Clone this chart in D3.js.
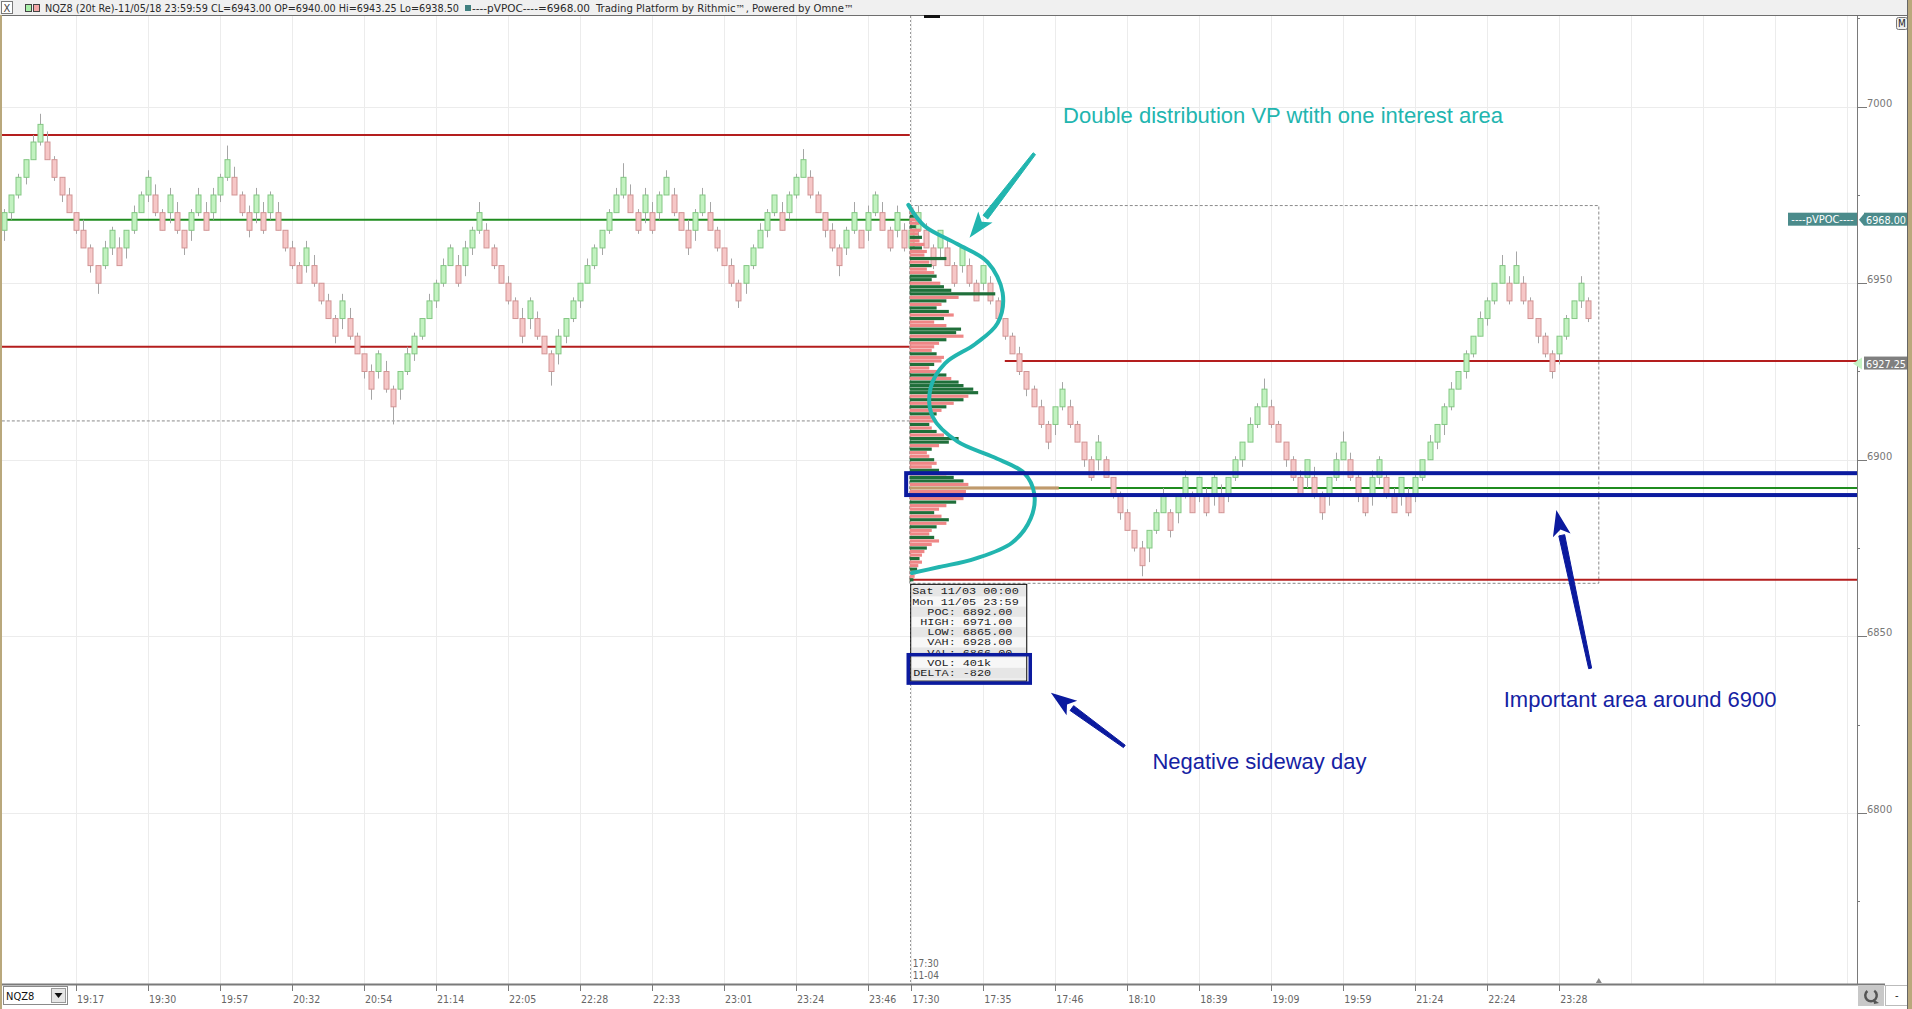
<!DOCTYPE html>
<html>
<head>
<meta charset="utf-8">
<script src="https://cdn.jsdelivr.net/npm/d3@7"></script>
<style>
  body { margin: 0; background: #fff; overflow: hidden; }
  svg { display: block; }
</style>
</head>
<body>
<script>
// ---- chart data ----
const BRICK = 5; // 20 ticks renko brick = 5 points

// previous session (11/02 evening) renko closes
const leftCloses = [
  6970,6975,6980,6985,6990,6995,6985,6980,6975,6970,
  6965,6960,6955,6950,6960,6965,6955,6965,6970,6975,
  6980,6970,6965,6975,6965,6960,6970,6975,6965,6975,
  6980,6985,6975,6970,6965,6975,6965,6975,6965,6960,
  6955,6950,6960,6950,6945,6940,6935,6945,6935,6930,
  6925,6920,6930,6920,6915,6925,6930,6935,6940,6945,
  6950,6955,6960,6950,6960,6965,6970,6960,6955,6950,
  6945,6940,6935,6945,6935,6930,6925,6935,6940,6945,
  6950,6955,6960,6965,6970,6975,6980,6970,6965,6975,
  6965,6975,6980,6970,6965,6960,6970,6975,6965,6960,
  6955,6950,6945,6955,6960,6965,6970,6975,6965,6975,
  6980,6985,6975,6970,6965,6960,6955,6965,6970,6960,
  6970,6975,6965,6960,6970,6960
];
const leftWickHi = [
  1,0,1,0,2,3,3,1,0,2, 0,3,1,0,2,1,3,0,2,1, 2,3,1,2,3,0,1,2,3,2,
  1,4,3,1,2,2,3,1,3,0, 2,1,2,3,0,2,1,2,3,1, 0,2,1,3,1,0,2,1,0,2,
  1,2,1,3,2,1,3,2,1,0, 2,1,3,1,2,0,1,2,0,1, 0,2,1,0,1,2,4,3,1,2,
  3,1,2,2,0,3,1,2,3,1, 0,2,1,0,1,2,1,0,3,1, 1,3,2,1,0,2,1,1,3,0,
  2,1,3,1,2,2
];
const leftWickLo = [
  3,2,1,2,0,1,0,1,2,0, 1,0,2,3,1,2,0,3,1,0, 2,1,0,3,1,2,3,1,0,2,
  2,1,0,1,2,3,1,2,0,1, 1,0,2,1,1,0,2,3,1,0, 2,3,2,1,5,3,1,2,1,0,
  2,1,0,1,3,2,1,0,1,0, 1,0,2,3,1,0,4,3,2,1, 2,0,1,2,1,0,1,0,1,3,
  1,2,0,1,0,2,3,1,0,1, 0,1,2,3,1,0,2,1,0,2, 1,0,1,0,2,1,3,2,1,0,
  3,1,0,1,2,1
];

// current session (11/04 17:30 -> 11/05 23:59) renko closes
const rightCloses = [
  6965,6970,6960,6955,6965,6955,6950,6960,6950,6945,
  6955,6945,6940,6935,6930,6925,6920,6915,6910,6905,
  6915,6920,6910,6905,6900,6895,6905,6895,6890,6885,
  6880,6875,6870,6880,6885,6890,6880,6890,6895,6885,
  6895,6885,6895,6885,6895,6900,6905,6910,6915,6920,
  6910,6905,6900,6895,6890,6900,6890,6885,6895,6900,
  6905,6895,6890,6885,6895,6900,6890,6885,6895,6885,
  6895,6900,6905,6910,6915,6920,6925,6930,6935,6940,
  6945,6950,6955,6945,6955,6945,6940,6935,6930,6925,
  6935,6940,6945,6950,6940
];
const rightWickHi = [
  3,2,2,1,0,2,1,0,2,1, 0,2,1,0,1,2,0,1,2,1, 0,2,2,1,0,1,2,1,0,1,
  1,0,2,0,1,2,1,0,2,1, 0,2,1,3,0,1,0,2,1,3, 2,1,0,1,2,0,3,1,0,2,
  3,2,1,0,2,1,1,2,0,2, 1,0,2,0,1,2,0,1,0,2, 1,0,3,2,4,2,1,0,1,1,
  0,1,0,2,1
];
const rightWickLo = [
  1,2,0,1,3,0,1,2,1,0, 2,1,0,1,0,1,2,0,1,2, 3,1,1,0,2,1,3,0,1,2,
  0,1,3,4,1,0,2,3,1,0, 2,1,3,0,2,1,2,0,1,0, 1,0,2,1,0,3,1,2,3,1,
  0,1,2,1,3,2,1,0,3,1, 2,1,0,2,3,1,0,2,1,0, 2,1,0,1,0,1,0,2,1,2,
  3,1,0,2,1
];

// time axis
const timeTickIndex = [10,20,30,40,50,60,70,80,90,100,110,120, 126,136,146,156,166,176,186,196,206,216];
const timeTickLabel = ["19:17","19:30","19:57","20:32","20:54","21:14","22:05","22:28","22:33","23:01","23:24","23:46",
                       "17:30","17:35","17:46","18:10","18:39","19:09","19:59","21:24","22:24","23:28"];
const gridOnlyIndex = [226,236,246,256];
const SESSION_SPLIT = 125.8; // bar index of the session break

// price axis
const priceTicks = [6800,6850,6900,6950,7000];
const priceMinorTicks = [6775,6825,6875,6925,6975,7025];

// previous session levels
const prevVAH = 6992, prevVAL = 6932, prevLow = 6911, pVPOC = 6968;

// current session volume profile stats
const sessionDates = ["Sat 11/03 00:00", "Mon 11/05 23:59"];
const statLabels = ["POC", "HIGH", "LOW", "VAH", "VAL", "VOL", "DELTA"];
const statValues = ["6892.00", "6971.00", "6865.00", "6928.00", "6866.00", "401k", "-820"];
const POC = 6892, HIGH = 6971, LOW = 6865, VAH = 6928, VAL = 6866;
const lastPrice = 6927.25;

// volume profile rows, 1 point each, from HIGH down to 6866
const vpVolume = [
  3,4,5,6,8,5,9,7,10,8, 12,10,14,12,30,16,18,14,20,22,
  18,25,28,34,70,40,30,26,22,32, 36,28,20,30,42,38,44,30,24,20,
  18,22,28,26,20,16,24,30,34,40, 44,52,56,48,44,36,30,26,22,18,
  20,16,18,22,28,40,32,24,18,14, 16,20,22,18,24,30,36,44,48,122,
  46,50,44,38,30,24,20,26,32,30, 22,18,16,20,24,18,14,12,10,8,
  10,7,6,5,4,3
];
// 1 = buyers dominate (green), -1 = sellers (red), 0 = POC row
const vpSide = [
  -1,-1,1,-1,-1,1,-1,-1,1,-1, -1,1,-1,-1,1,-1,1,-1,-1,1,
  1,-1,1,1,1,-1,1,-1,1,1, -1,1,-1,-1,1,1,-1,1,-1,-1,
  -1,1,-1,-1,1,-1,-1,1,-1,1, 1,1,1,-1,1,-1,1,-1,1,-1,
  -1,1,-1,1,-1,1,1,-1,1,-1, -1,1,-1,-1,1,-1,1,1,-1,0,
  -1,-1,-1,1,-1,-1,1,-1,1,-1, 1,-1,-1,1,-1,-1,1,-1,-1,1,
  -1,-1,1,-1,-1,1
];

// hand drawn annotations, in [bar index, price]
const ddCurve = [
  [125.6,6972.2],[127.8,6966.3],[132.4,6961.1],[136.6,6956.0],[138.7,6947.3],[138.0,6938.7],
  [134.9,6932.8],[130.7,6927.3],[128.7,6920.4],[129.0,6912.1],[132.4,6905.2],[137.5,6900.7],
  [141.7,6896.2],[143.1,6890.3],[142.6,6883.4],[140.0,6876.5],[134.9,6872.0],[129.9,6869.6],[126.1,6867.9]
];
const notes = [
  {text: "Double distribution VP wtith one interest area", at: [147.1, 6995.3], color: "#22b5af"},
  {text: "Important area around 6900", at: [208.3, 6829.9], color: "#1522a3"},
  {text: "Negative sideway day", at: [159.5, 6812.3], color: "#1522a3"}
];
const arrows = [
  {from: [143.1, 6986.7], to: [134.1, 6962.9], color: "#22b5af"},
  {from: [220.3, 6840.9], to: [215.6, 6885.8], color: "#0b1a9e"},
  {from: [155.6, 6818.8], to: [145.4, 6834.0], color: "#0b1a9e"}
];
const areaBox = {x0: 125.3, x1: 258.75, p0: 6896.2, p1: 6890.0};

// ---- layout ----
const W = 1912, H = 1009;
const plot = {left: 0, right: 1857, top: 16, bottom: 984};
const NARROW = "'Liberation Sans Narrow', 'DejaVu Sans Condensed', 'Liberation Sans', sans-serif";

const svg = d3.select("body").append("svg")
  .attr("width", W).attr("height", H)
  .style("font-family", NARROW);

const x = d3.scaleLinear().domain([0, 100]).range([4, 724]);
const y = d3.scaleLinear().domain([6751.5, 7025.7]).range([plot.bottom, plot.top]);

svg.append("rect").attr("width", W).attr("height", H).attr("fill", "#fff");

svg.append("defs").append("clipPath").attr("id", "plotclip")
  .append("rect")
  .attr("x", plot.left).attr("y", plot.top)
  .attr("width", plot.right - plot.left).attr("height", plot.bottom - plot.top);

const g = svg.append("g").attr("clip-path", "url(#plotclip)");

// grid
g.selectAll(".hgrid").data(priceTicks).join("line")
  .attr("x1", plot.left).attr("x2", plot.right)
  .attr("y1", d => Math.round(y(d)) + 0.5).attr("y2", d => Math.round(y(d)) + 0.5)
  .attr("stroke", "#ececec");
g.selectAll(".vgrid").data(timeTickIndex.concat(gridOnlyIndex)).join("line")
  .attr("x1", d => Math.round(x(d)) + 0.5).attr("x2", d => Math.round(x(d)) + 0.5)
  .attr("y1", plot.top).attr("y2", plot.bottom)
  .attr("stroke", "#ececec");

// session break
g.append("line")
  .attr("x1", Math.round(x(SESSION_SPLIT)) + 0.5).attr("x2", Math.round(x(SESSION_SPLIT)) + 0.5)
  .attr("y1", plot.top).attr("y2", plot.bottom)
  .attr("stroke", "#9a9a9a").attr("stroke-dasharray", "2,2");

// level lines
function level(p, i0, i1, color, dash, width) {
  g.append("line")
    .attr("x1", x(i0)).attr("x2", x(i1))
    .attr("y1", y(p)).attr("y2", y(p))
    .attr("stroke", color).attr("stroke-width", width || 2)
    .attr("stroke-dasharray", dash || null);
}
level(prevVAH, -1, SESSION_SPLIT, "#b41e1e");
level(pVPOC, -1, SESSION_SPLIT, "#1f8c1f");
level(prevVAL, -1, SESSION_SPLIT, "#b41e1e");
level(prevLow, -1, SESSION_SPLIT, "#8a8a8a", "3,2", 1);

// session range box
g.append("rect")
  .attr("x", x(SESSION_SPLIT)).attr("y", y(HIGH + 1))
  .attr("width", x(221.5) - x(SESSION_SPLIT)).attr("height", y(LOW) - y(HIGH + 1))
  .attr("fill", "none").attr("stroke", "#8a8a8a").attr("stroke-dasharray", "3,2");

level(VAH, 139, 270, "#b41e1e");
level(VAL, SESSION_SPLIT, 270, "#b41e1e");
level(POC, SESSION_SPLIT, 270, "#1f8c1f");

// renko bars
const closes = leftCloses.concat(rightCloses);
const wHi = leftWickHi.concat(rightWickHi);
const wLo = leftWickLo.concat(rightWickLo);
const bars = closes.map((c, i) => {
  const up = i === 0 ? true : c > closes[i - 1];
  const o = up ? c - BRICK : c + BRICK;
  return {i, o, c, up,
    hi: Math.max(o, c) + (wHi[i] || 0),
    lo: Math.min(o, c) - (wLo[i] || 0)};
});

const bar = g.append("g").selectAll("g").data(bars).join("g");
bar.append("line")
  .attr("x1", d => Math.round(x(d.i)) + 0.5).attr("x2", d => Math.round(x(d.i)) + 0.5)
  .attr("y1", d => y(d.hi)).attr("y2", d => y(d.lo))
  .attr("stroke", "#a6a6a6");
bar.append("rect")
  .attr("x", d => Math.round(x(d.i)) - 2)
  .attr("y", d => y(Math.max(d.o, d.c)))
  .attr("width", 5)
  .attr("height", d => y(Math.min(d.o, d.c)) - y(Math.max(d.o, d.c)))
  .attr("fill", d => d.up ? "#c2f2c0" : "#f6c7c7")
  .attr("stroke", d => d.up ? "#84c784" : "#d19595");

// volume profile
const vpX = d3.scaleLinear().domain([0, d3.max(vpVolume)]).range([0, 149]);
const vpColor = s => s === 0 ? "#bf9a6c" : (s > 0 ? "#1f6f3a" : "#ef8686");
g.append("g").selectAll("rect").data(vpVolume).join("rect")
  .attr("x", x(SESSION_SPLIT))
  .attr("y", (d, k) => y(HIGH - k + 0.45))
  .attr("width", d => vpX(d))
  .attr("height", (d, k) => y(HIGH - k - 0.45) - y(HIGH - k + 0.45))
  .attr("fill", (d, k) => vpColor(vpSide[k]));

// teal double distribution sketch
g.append("path")
  .attr("d", d3.line().x(d => x(d[0])).y(d => y(d[1])).curve(d3.curveCatmullRom.alpha(0.5))(ddCurve))
  .attr("fill", "none").attr("stroke", "#22b5af").attr("stroke-width", 4)
  .attr("stroke-linecap", "round");

// session stats box
const boxX = x(SESSION_SPLIT) + 1, boxY = y(LOW) + 1, boxW = 116, rowH = 10.2, CH = 7.1;
const rows = sessionDates.map(t => ({left: t, label: null}))
  .concat(statLabels.map((l, k) => ({label: l, value: statValues[k]})));
const box = svg.append("g").attr("transform", `translate(${boxX},${boxY})`);
box.append("rect").attr("width", boxW).attr("height", rows.length * rowH + 5)
  .attr("fill", "#eeeeee").attr("stroke", "#000");
box.selectAll(".row").data(rows).join("rect")
  .attr("x", 1).attr("y", (d, k) => 2 + k * rowH)
  .attr("width", boxW - 2).attr("height", rowH)
  .attr("fill", (d, k) => k % 2 ? "#f7f7f7" : "#e6e6e6");
const mono = {family: "'Liberation Mono', 'DejaVu Sans Mono', monospace", size: "9px"};
box.selectAll(".t").data(rows).join("text")
  .attr("x", d => d.label ? 45 - (d.label.length + 1) * CH : 1.5)
  .attr("y", (d, k) => 10 + k * rowH)
  .attr("textLength", d => (d.label ? d.label.length + 1 : d.left.length) * CH)
  .attr("lengthAdjust", "spacingAndGlyphs")
  .style("font-family", mono.family).style("font-size", mono.size).attr("fill", "#222")
  .text(d => d.label ? d.label + ":" : d.left);
box.selectAll(".v").data(rows.filter(d => d.label)).join("text")
  .attr("x", 52)
  .attr("y", (d, k) => 10 + (k + 2) * rowH)
  .attr("textLength", d => d.value.length * CH)
  .attr("lengthAdjust", "spacingAndGlyphs")
  .style("font-family", mono.family).style("font-size", mono.size).attr("fill", "#222")
  .text(d => d.value);
box.append("rect")
  .attr("x", -2.5).attr("y", 2 + 7 * rowH - 3)
  .attr("width", boxW + 6).attr("height", 2 * rowH + 8)
  .attr("fill", "none").attr("stroke", "#0b1a9e").attr("stroke-width", 3.5);

// important area box
svg.append("rect")
  .attr("x", x(areaBox.x0)).attr("y", y(areaBox.p0))
  .attr("width", x(areaBox.x1) - x(areaBox.x0)).attr("height", y(areaBox.p1) - y(areaBox.p0))
  .attr("fill", "none").attr("stroke", "#0b1a9e").attr("stroke-width", 4);

// arrows
arrows.forEach(a => {
  const x1 = x(a.from[0]), y1 = y(a.from[1]), x2 = x(a.to[0]), y2 = y(a.to[1]);
  const len = Math.hypot(x2 - x1, y2 - y1), ux = (x2 - x1) / len, uy = (y2 - y1) / len;
  const headL = 26, headW = 9;
  const bx = x2 - ux * headL, by = y2 - uy * headL;
  svg.append("path")
    .attr("d", `M${x1 - uy * 1.5},${y1 + ux * 1.5} L${bx - uy * 3},${by + ux * 3} L${bx + uy * 3},${by - ux * 3} L${x1 + uy * 1.5},${y1 - ux * 1.5}Z`)
    .attr("fill", a.color).attr("stroke", a.color).attr("stroke-width", 1);
  svg.append("path")
    .attr("d", `M${x2},${y2} L${bx - uy * headW},${by + ux * headW} L${bx + ux * 6},${by + uy * 6} L${bx + uy * headW},${by - ux * headW}Z`)
    .attr("fill", a.color);
});

// annotation text
svg.selectAll(".note").data(notes).join("text")
  .attr("x", d => x(d.at[0])).attr("y", d => y(d.at[1]))
  .style("font-family", "'Liberation Sans', Arial, sans-serif").style("font-size", "22px")
  .attr("fill", d => d.color)
  .text(d => d.text);

// session start label inside plot
svg.append("text").attr("x", x(SESSION_SPLIT) + 3).attr("y", 967)
  .style("font-size", "10px").attr("fill", "#666").text("17:30");
svg.append("text").attr("x", x(SESSION_SPLIT) + 3).attr("y", 979)
  .style("font-size", "10px").attr("fill", "#666").text("11-04");
svg.append("path")
  .attr("d", `M${x(221.5) - 3},${plot.bottom - 1} L${x(221.5)},${plot.bottom - 6} L${x(221.5) + 3},${plot.bottom - 1}Z`)
  .attr("fill", "#888");

// ---- price axis ----
svg.append("rect").attr("x", plot.right).attr("y", plot.top)
  .attr("width", W - plot.right).attr("height", plot.bottom - plot.top).attr("fill", "#fff");
svg.append("line").attr("x1", plot.right + 0.5).attr("x2", plot.right + 0.5)
  .attr("y1", plot.top).attr("y2", H).attr("stroke", "#7a7a7a");
svg.selectAll(".ptick").data(priceTicks).join("line")
  .attr("x1", plot.right).attr("x2", plot.right + 10)
  .attr("y1", d => Math.round(y(d)) + 0.5).attr("y2", d => Math.round(y(d)) + 0.5)
  .attr("stroke", "#7a7a7a");
svg.selectAll(".pmtick").data(priceMinorTicks).join("line")
  .attr("x1", plot.right).attr("x2", plot.right + 3)
  .attr("y1", d => Math.round(y(d)) + 0.5).attr("y2", d => Math.round(y(d)) + 0.5)
  .attr("stroke", "#7a7a7a");
svg.selectAll(".plabel").data(priceTicks).join("text")
  .attr("x", plot.right + 10).attr("y", d => y(d))
  .style("font-size", "11px").attr("fill", "#777")
  .text(d => d);

// pVPOC marker
const pv = y(pVPOC);
svg.append("rect").attr("x", plot.right - 69).attr("y", pv - 7).attr("width", 69).attr("height", 13)
  .attr("fill", "#4b8b8b");
svg.append("text").attr("x", plot.right - 34.5).attr("y", pv + 3.5).attr("text-anchor", "middle")
  .style("font-size", "11px").attr("fill", "#fff").text("----pVPOC----");
svg.append("path").attr("d", `M${plot.right + 2},${pv} L${plot.right + 7},${pv - 6} L${plot.right + 7},${pv + 6}Z`)
  .attr("fill", "#4b8b8b");
svg.append("rect").attr("x", plot.right + 7).attr("y", pv - 7).attr("width", 44).attr("height", 13)
  .attr("fill", "#4b8b8b");
svg.append("text").attr("x", plot.right + 9).attr("y", pv + 4)
  .attr("textLength", 40).attr("lengthAdjust", "spacingAndGlyphs")
  .style("font-family", "'DejaVu Sans Condensed', sans-serif").style("font-size", "11px").attr("fill", "#fff")
  .text(d3.format(".2f")(pVPOC));

// last price marker
const lp = y(lastPrice);
svg.append("path").attr("d", `M${plot.right - 4},${lp} L${plot.right + 5},${lp - 6} L${plot.right + 5},${lp + 6}Z`)
  .attr("fill", "#c4f2c4");
svg.append("rect").attr("x", plot.right + 7).attr("y", lp - 7).attr("width", 44).attr("height", 13)
  .attr("fill", "#7f7f7f");
svg.append("text").attr("x", plot.right + 9).attr("y", lp + 4)
  .attr("textLength", 40).attr("lengthAdjust", "spacingAndGlyphs")
  .style("font-family", "'DejaVu Sans Condensed', sans-serif").style("font-size", "11px").attr("fill", "#fff")
  .text(d3.format(".2f")(lastPrice));

// ---- time axis ----
svg.append("rect").attr("x", 0).attr("y", plot.bottom).attr("width", W).attr("height", H - plot.bottom)
  .attr("fill", "#fff");
svg.append("line").attr("x1", 0).attr("x2", plot.right + 28)
  .attr("y1", plot.bottom + 0.5).attr("y2", plot.bottom + 0.5)
  .attr("stroke", "#7a7a7a").attr("stroke-width", 2);
svg.selectAll(".ttick").data(timeTickIndex).join("line")
  .attr("x1", d => Math.round(x(d)) + 0.5).attr("x2", d => Math.round(x(d)) + 0.5)
  .attr("y1", plot.bottom).attr("y2", plot.bottom + 7)
  .attr("stroke", "#7a7a7a");
svg.selectAll(".tlabel").data(timeTickIndex).join("text")
  .attr("x", d => x(d) + 1).attr("y", 1003)
  .style("font-size", "10.5px").attr("fill", "#666")
  .text((d, k) => timeTickLabel[k]);

// instrument selector
svg.append("rect").attr("x", 3.5).attr("y", 986.5).attr("width", 64).attr("height", 18)
  .attr("fill", "#fff").attr("stroke", "#8a8a8a");
svg.append("text").attr("x", 6).attr("y", 1000).style("font-size", "11px").attr("fill", "#111").text("NQZ8");
svg.append("rect").attr("x", 51.5).attr("y", 988.5).attr("width", 14).attr("height", 14)
  .attr("fill", "#e6e6e6").attr("stroke", "#9a9a9a");
svg.append("path").attr("d", "M54.5,993 L62.5,993 L58.5,998Z").attr("fill", "#111");

// refresh button
svg.append("rect").attr("x", plot.right + 1).attr("y", 985).attr("width", 26).attr("height", 21).attr("fill", "#c8c8c8");
svg.append("path").attr("d", d3.arc().innerRadius(4.5).outerRadius(7).startAngle(0.6).endAngle(5.6)())
  .attr("transform", `translate(${plot.right + 14},995.5)`).attr("fill", "#555");
svg.append("path").attr("d", `M${plot.right + 16},999 L${plot.right + 22},1003 L${plot.right + 17},1004Z`).attr("fill", "#555");
svg.append("rect").attr("x", plot.right + 28.5).attr("y", 985.5).attr("width", 22).attr("height", 20)
  .attr("fill", "#fff").attr("stroke", "#bbb");
svg.append("text").attr("x", plot.right + 38).attr("y", 999).style("font-size", "11px").attr("fill", "#222").text("-");

// ---- title bar ----
svg.append("rect").attr("x", 0).attr("y", 0).attr("width", W).attr("height", 15).attr("fill", "#f0f0f0");
svg.append("line").attr("x1", 0).attr("x2", W).attr("y1", 15.5).attr("y2", 15.5).attr("stroke", "#6e6e6e");
svg.append("rect").attr("x", 1.5).attr("y", 1.5).attr("width", 11).attr("height", 12).attr("fill", "#fff").attr("stroke", "#7a7a7a");
svg.append("text").attr("x", 3.5).attr("y", 12).style("font-size", "11px").attr("fill", "#444").text("X");
svg.append("rect").attr("x", 25.5).attr("y", 4.5).attr("width", 6).attr("height", 7).attr("fill", "#a8f0a8").attr("stroke", "#444");
svg.append("rect").attr("x", 33.5).attr("y", 4.5).attr("width", 6).attr("height", 7).attr("fill", "#f4a8a8").attr("stroke", "#444");
const headerParts = [
  {text: "NQZ8 (20t Re)-11/05/18 23:59:59 CL=6943.00 OP=6940.00 Hi=6943.25 Lo=6938.50", x: 45, len: 414},
  {text: "----pVPOC----=6968.00", x: 472, len: 118},
  {text: "Trading Platform by Rithmic\u2122, Powered by Omne\u2122", x: 596, len: 258}
];
svg.selectAll(".hdr").data(headerParts).join("text")
  .attr("x", d => d.x).attr("y", 11.5)
  .attr("textLength", d => d.len).attr("lengthAdjust", "spacingAndGlyphs")
  .style("font-size", "10px").attr("fill", "#2a2a2a")
  .text(d => d.text);
svg.append("rect").attr("x", 465).attr("y", 5).attr("width", 6).attr("height", 6).attr("fill", "#3f7f7f");
svg.append("rect").attr("x", 924).attr("y", 15).attr("width", 16).attr("height", 3).attr("fill", "#111");
svg.append("rect").attr("x", 1896.5).attr("y", 17.5).attr("width", 11).attr("height", 12).attr("rx", 2)
  .attr("fill", "#eee").attr("stroke", "#777");
svg.append("text").attr("x", 1898).attr("y", 27).style("font-size", "10px").attr("fill", "#222").text("M");

// window frame
svg.append("rect").attr("x", 0).attr("y", 15).attr("width", 2).attr("height", H - 15).attr("fill", "#b9a87c");
svg.append("rect").attr("x", 1908).attr("y", 0).attr("width", 4).attr("height", H).attr("fill", "#b9a87c");
svg.append("line").attr("x1", 1907.5).attr("x2", 1907.5).attr("y1", 0).attr("y2", H).attr("stroke", "#666");
</script>
</body>
</html>
